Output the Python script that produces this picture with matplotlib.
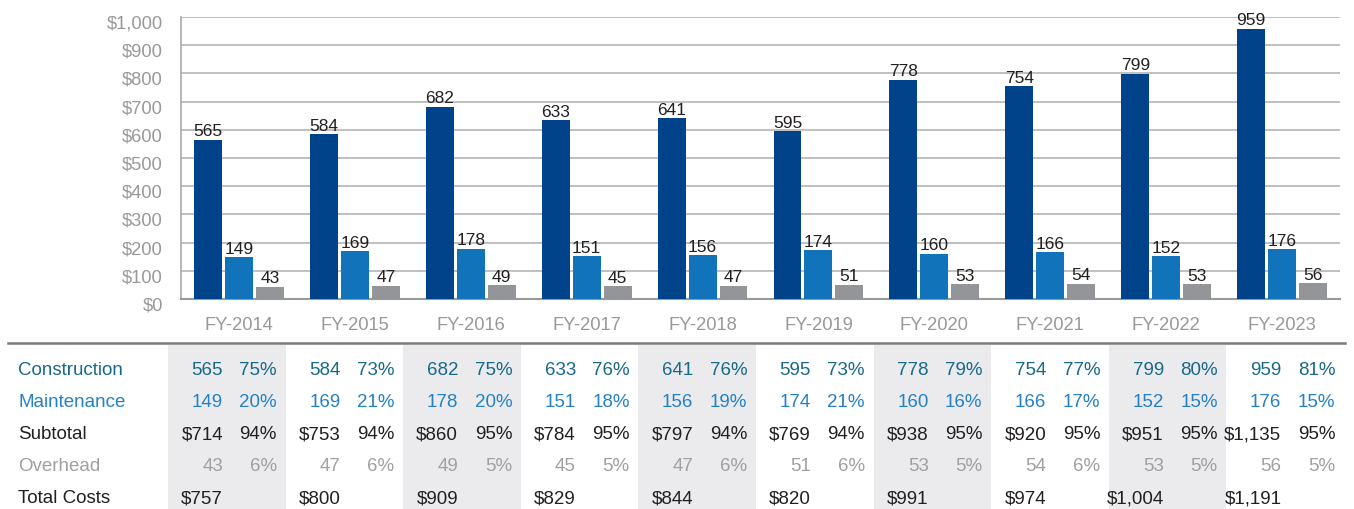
import matplotlib.pyplot as plt
import matplotlib.transforms as mtrans
import numpy as np

plt.rcParams['font.family'] = ['Liberation Sans', 'DejaVu Sans']

years = ['FY-2014', 'FY-2015', 'FY-2016', 'FY-2017', 'FY-2018',
         'FY-2019', 'FY-2020', 'FY-2021', 'FY-2022', 'FY-2023']
construction = [565, 584, 682, 633, 641, 595, 778, 754, 799, 959]
maintenance = [149, 169, 178, 151, 156, 174, 160, 166, 152, 176]
overhead = [43, 47, 49, 45, 47, 51, 53, 54, 53, 56]

constr_pct = ['75%', '73%', '75%', '76%', '76%', '73%', '79%', '77%', '80%', '81%']
maint_pct = ['20%', '21%', '20%', '18%', '19%', '21%', '16%', '17%', '15%', '15%']
subtotal = ['$714', '$753', '$860', '$784', '$797', '$769', '$938', '$920', '$951', '$1,135']
subtotal_pct = ['94%', '94%', '95%', '95%', '94%', '94%', '95%', '95%', '95%', '95%']
overhead_pct = ['6%', '6%', '5%', '5%', '6%', '6%', '5%', '6%', '5%', '5%']
total_costs = ['$757', '$800', '$909', '$829', '$844', '$820', '$991', '$974', '$1,004', '$1,191']

c_con = '#00438A'
c_mnt = '#1173BA'
c_ovh = '#939598'
t_con = '#17698A'
t_mnt = '#2481C5'
t_blk = '#231F20'
t_gry = '#A0A0A0'

W, H = 1354, 510
fig = plt.figure(figsize=(W / 100, H / 100), dpi=100)

# table layer in pixel coords (drawn first so bars sit on top)
tab = fig.add_axes([0, 0, 1, 1])
tab.set_xlim(0, W)
tab.set_ylim(H, 0)
tab.axis('off')

# bar chart
ax = fig.add_axes([181 / W, (H - 300) / H, (1340 - 181) / W, (300 - 18) / H])
x = np.arange(len(years))
bw = 0.241
off = 0.267
b1 = ax.bar(x - off, construction, bw, color=c_con, zorder=3)
b2 = ax.bar(x, maintenance, bw, color=c_mnt, zorder=3)
b3 = ax.bar(x + off, overhead, bw, color=c_ovh, zorder=3)
for bars in (b1, b2, b3):
    ax.bar_label(bars, padding=1, fontsize=12.5, color=t_blk)

ax.set_xlim(-0.5, 9.5)
ax.set_ylim(0, 1000)
ax.set_yticks(range(0, 1001, 100))
ax.set_yticklabels(['$0'] + ['${:,}'.format(v) for v in range(100, 1001, 100)])
ax.set_xticks(x)
ax.set_xticklabels(years)
ax.tick_params(axis='both', length=0, labelsize=13.2, labelcolor='#999999')
ax.tick_params(axis='x', pad=12)
ax.tick_params(axis='y', pad=13)
shift = mtrans.ScaledTranslation(0, -4 / 100, fig.dpi_scale_trans)
for lbl in ax.get_yticklabels():
    lbl.set_transform(lbl.get_transform() + shift)
ax.grid(axis='y', color='#B5B5B5', lw=1.2, zorder=0)
for s in ('top', 'right'):
    ax.spines[s].set_visible(False)
ax.spines['left'].set_color('#AAAAAA')
ax.spines['bottom'].set_color('#999999')
ax.spines['left'].set_linewidth(1.2)
ax.spines['bottom'].set_linewidth(1.5)

# table
tab.plot([8, 1345], [344, 344], color='#7A7A7A', lw=1.8)
col0 = 168
cw = 117.6
for k in range(0, len(years), 2):
    tab.add_patch(plt.Rectangle((col0 + k * cw, 345.5), cw, H - 345.5,
                                color='#EBEBED', lw=0, zorder=0))

rows_y = [371, 403, 435, 467, 499]
labels = ['Construction', 'Maintenance', 'Subtotal', 'Overhead', 'Total Costs']
colors = [t_con, t_mnt, t_blk, t_gry, t_blk]
fs = 13.5
for y, lab, c in zip(rows_y, labels, colors):
    tab.text(18, y, lab, ha='left', va='center', fontsize=fs, color=c)

for k in range(len(years)):
    vx = col0 + k * cw + 55
    px = col0 + k * cw + 109
    rows = [(str(construction[k]), constr_pct[k], t_con),
            (str(maintenance[k]), maint_pct[k], t_mnt),
            (subtotal[k], subtotal_pct[k], t_blk),
            (str(overhead[k]), overhead_pct[k], t_gry),
            (total_costs[k], '', t_blk)]
    for y, (v, p, c) in zip(rows_y, rows):
        tab.text(vx, y, v, ha='right', va='center', fontsize=fs, color=c)
        if p:
            tab.text(px, y, p, ha='right', va='center', fontsize=fs, color=c)

fig.savefig('out.png', dpi=100)
